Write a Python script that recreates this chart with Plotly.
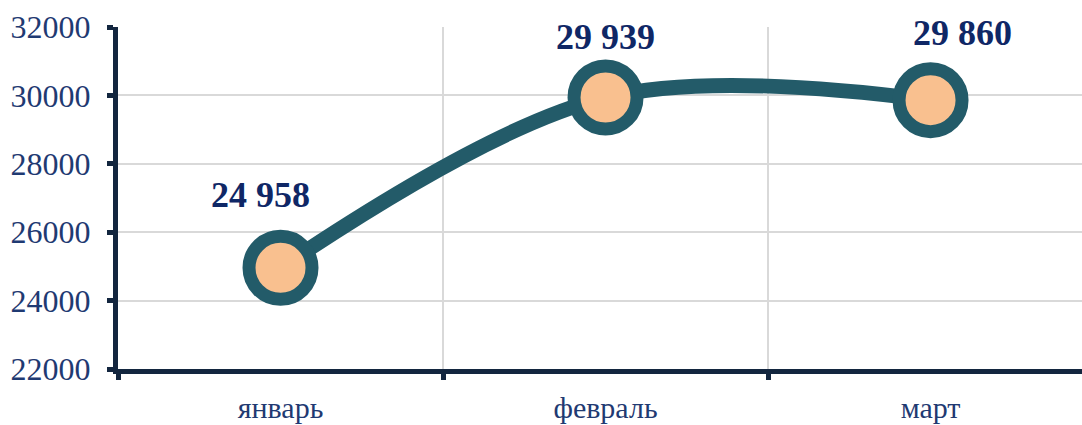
import plotly.graph_objects as go

# data
months = ['январь', 'февраль', 'март']
values = [24958, 29939, 29860]
value_labels = ['24 958', '29 939', '29 860']

# label offsets (px) around each point
label_dx = [-20, 0, 32]
label_dy = [73, 60, 67]

line_col = '#235B69'
marker_fill = '#F9C08F'
axis_col = '#13263F'
text_col = '#1F3A72'
label_col = '#0F2766'
serif = 'Liberation Serif'

fig = go.Figure()
fig.add_trace(go.Scatter(
    x=months, y=values,
    mode='lines+markers',
    line=dict(color=line_col, width=15, shape='spline', smoothing=1.0),
    marker=dict(size=63, color=marker_fill, line=dict(color=line_col, width=13)),
    cliponaxis=False,
    hoverinfo='skip',
))

for m, v, t, dx, dy in zip(months, values, value_labels, label_dx, label_dy):
    fig.add_annotation(x=m, y=v, text='<b>' + t + '</b>', showarrow=False,
                       xshift=dx, yshift=dy,
                       font=dict(family=serif, size=36, color=label_col))

fig.update_layout(
    width=1082, height=425,
    margin=dict(l=118, r=0, t=27, b=56, autoexpand=False),
    plot_bgcolor='white', paper_bgcolor='white',
    showlegend=False,
    font=dict(family=serif, color=text_col),
)
fig.update_xaxes(
    type='category', range=[-0.5, 2.466], automargin=False,
    tickson='boundaries', ticks='outside', ticklen=6, tickwidth=5, tickcolor=axis_col,
    showline=True, linewidth=5, linecolor=axis_col,
    showgrid=True, gridcolor='#D9D9D9', gridwidth=1.5,
    tickfont=dict(family=serif, size=30, color=text_col),
    ticklabelstandoff=8,
)
fig.update_yaxes(
    range=[22000, 32000], dtick=2000, tickformat='d', automargin=False,
    ticks='outside', ticklen=6, tickwidth=5, tickcolor=axis_col,
    showline=True, linewidth=5, linecolor=axis_col,
    showgrid=True, gridcolor='#D9D9D9', gridwidth=1.5,
    zeroline=False,
    tickfont=dict(family=serif, size=32, color=text_col),
    ticklabelstandoff=10,
)

# page body has a default 8px margin, drop it so the chart sits at 0,0
fig.write_html('out.html', config={'displayModeBar': False},
               post_script="document.body.style.margin='0';")
